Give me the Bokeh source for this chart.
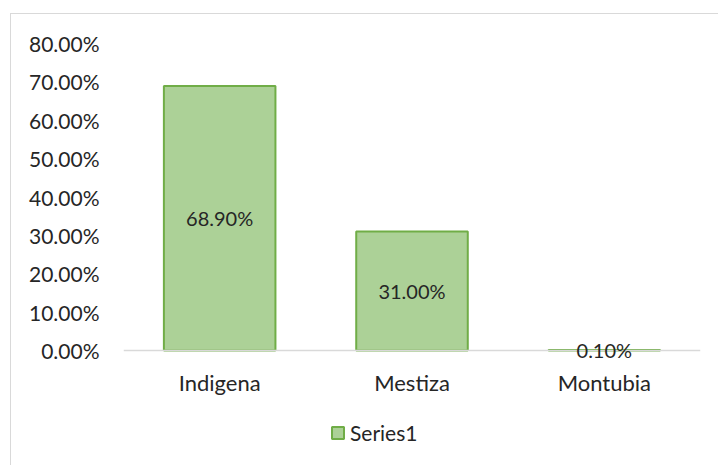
from bokeh.plotting import figure
from bokeh.models import (ColumnDataSource, Range1d, FactorRange, FixedTicker,
                          NumeralTickFormatter, LabelSet, Legend, LegendItem)
from bokeh.core.properties import value
from bokeh.embed import file_html
from bokeh.resources import INLINE

categories = ["Indigena", "Mestiza", "Montubia"]
values = [0.689, 0.310, 0.001]
series_name = "Series1"
y_ticks = [0.0, 0.1, 0.2, 0.3, 0.4, 0.5, 0.6, 0.7, 0.8]

FONT = "Lato"
TXT = "#262626"

src = ColumnDataSource(dict(
    cat=categories,
    val=values,
    mid=[v / 2 for v in values],
    lab=[f"{v * 100:.2f}%" for v in values],
))

# frame: 0..0.8 occupies 307px; extra space below the baseline holds labels + legend
Y_MAX = 0.8
Y_MIN = -Y_MAX * 116 / 307

p = figure(width=708, height=452, output_backend="svg", toolbar_location=None,
           x_range=FactorRange(*categories), y_range=Range1d(Y_MIN, Y_MAX),
           min_border_left=112, min_border_right=19, min_border_top=29, min_border_bottom=0)
p.styles = {"margin-left": "10px", "margin-top": "13px",
            "border-top": "1px solid #d9d9d9", "border-left": "1px solid #d9d9d9"}
p.outline_line_color = None
p.background_fill_color = "white"
p.border_fill_color = "white"
p.xgrid.grid_line_color = None
p.ygrid.grid_line_color = None

r = p.vbar(x="cat", top="val", bottom=0, width=0.58, source=src, fill_color="#acd197",
           line_color="#70ad47", line_width=2)

labels = LabelSet(x="cat", y="mid", text="lab", source=src, text_align="center",
                  text_baseline="middle", text_font=value(FONT), text_font_size="20px",
                  text_color=TXT)
p.add_layout(labels)

p.yaxis.ticker = FixedTicker(ticks=y_ticks)
p.yaxis.formatter = NumeralTickFormatter(format="0.00%")
p.yaxis.axis_line_color = None
p.yaxis.major_tick_line_color = None
p.yaxis.minor_tick_line_color = None
p.yaxis.major_label_standoff = 18
p.yaxis.major_label_text_font = FONT
p.yaxis.major_label_text_font_size = "21px"
p.yaxis.major_label_text_color = TXT

p.xaxis.fixed_location = 0
p.xaxis.axis_line_color = "#d9d9d9"
p.xaxis.axis_line_width = 1.5
p.xaxis.major_tick_line_color = None
p.xaxis.minor_tick_line_color = None
p.xaxis.major_label_standoff = 12
p.xaxis.major_label_text_font = FONT
p.xaxis.major_label_text_font_size = "22px"
p.xaxis.major_label_text_color = TXT

lg = Legend(items=[LegendItem(label=series_name, renderers=[r])])
lg.location = (207, 21)
lg.orientation = "horizontal"
lg.border_line_color = None
lg.background_fill_alpha = 0
lg.padding = 0
lg.margin = 0
lg.glyph_width = 15
lg.glyph_height = 15
lg.label_height = 15
lg.label_standoff = 5
lg.label_text_font = FONT
lg.label_text_font_size = "21px"
lg.label_text_color = TXT
lg.label_text_baseline = "middle"
p.add_layout(lg, "center")

open("out.html", "w").write(file_html(p, INLINE))
